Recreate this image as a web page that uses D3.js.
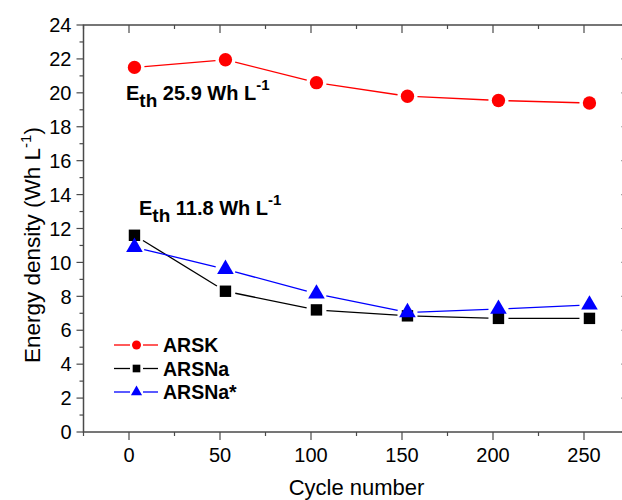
<!DOCTYPE html>
<html>
  <head>
    <meta charset="utf-8">
    <title>Energy density vs cycle number</title>
    <script src="https://d3js.org/d3.v7.min.js"></script>
    <style>
      body { margin: 0; background: #fff; overflow: hidden; }
      text { font-family: "Liberation Sans", Arial, sans-serif; }
    </style>
  </head>
  <body>
    <script>
    // data
    var cycles = [3, 53, 103, 153, 203, 253]
    var arsk = [21.5, 21.95, 20.6, 19.8, 19.55, 19.4]
    var arsna = [11.6, 8.3, 7.2, 6.85, 6.7, 6.7]
    var arsnaStar = [10.9, 9.6, 8.15, 7.05, 7.25, 7.5]
    var seriesNames = ["ARSK", "ARSNa", "ARSNa*"]
    var xTicks = [0, 50, 100, 150, 200, 250]
    var yTicks = [0, 2, 4, 6, 8, 10, 12, 14, 16, 18, 20, 22, 24]

    var width = 622,
        height = 500,
        axisColor = "#4a4a4a"

    var series = [
      {name: seriesNames[0], values: arsk, color: "#ff0000", symbol: d3.symbolCircle, size: 140},
      {name: seriesNames[1], values: arsna, color: "#000000", symbol: d3.symbolSquare, size: 130},
      {name: seriesNames[2], values: arsnaStar, color: "#0000ff", symbol: d3.symbolTriangle, size: 120}
    ]

    var x = d3.scaleLinear().domain([-25, 275]).range([83.5, 629.5])
    var y = d3.scaleLinear().domain([0, 24]).range([432, 25])

    var svg = d3.select("body").append("svg")
                .attr("width", width)
                .attr("height", height)

    // frame and ticks
    var minorX = d3.range(-25, 276, 25)
    var minorY = d3.range(0, 25, 1)

    var gBottom = svg.append("g").attr("transform", "translate(0," + y(0) + ")")
    gBottom.selectAll("line").data(minorX).enter().append("line")
      .attr("x1", d => x(d)).attr("x2", d => x(d))
      .attr("y1", 0).attr("y2", d => d % 50 === 0 ? 8 : 4)
      .attr("stroke", axisColor).attr("stroke-width", 1.2)
    gBottom.selectAll("text").data(xTicks).enter().append("text")
      .attr("x", d => x(d)).attr("y", 30)
      .attr("text-anchor", "middle")
      .attr("font-size", 20)
      .text(d => d)

    var gTop = svg.append("g").attr("transform", "translate(0," + y(24) + ")")
    gTop.selectAll("line").data(minorX).enter().append("line")
      .attr("x1", d => x(d)).attr("x2", d => x(d))
      .attr("y1", 0).attr("y2", d => d % 50 === 0 ? 8 : 4)
      .attr("stroke", axisColor).attr("stroke-width", 1.2)

    var gLeft = svg.append("g").attr("transform", "translate(" + x(-25) + ",0)")
    gLeft.selectAll("line").data(minorY).enter().append("line")
      .attr("y1", d => y(d)).attr("y2", d => y(d))
      .attr("x1", 0).attr("x2", d => d % 2 === 0 ? -7 : -4)
      .attr("stroke", axisColor).attr("stroke-width", 1.2)
    gLeft.selectAll("text").data(yTicks).enter().append("text")
      .attr("x", -12).attr("y", d => y(d))
      .attr("dy", "0.36em")
      .attr("text-anchor", "end")
      .attr("font-size", 20)
      .text(d => d)

    var gRight = svg.append("g").attr("transform", "translate(" + x(275) + ",0)")
    gRight.selectAll("line").data(minorY).enter().append("line")
      .attr("y1", d => y(d)).attr("y2", d => y(d))
      .attr("x1", 0).attr("x2", d => d % 2 === 0 ? -8 : -4)
      .attr("stroke", axisColor).attr("stroke-width", 1.2)

    svg.append("rect")
      .attr("x", x(-25)).attr("y", y(24))
      .attr("width", x(275) - x(-25)).attr("height", y(0) - y(24))
      .attr("fill", "none").attr("stroke", axisColor).attr("stroke-width", 1.5)

    // axis titles
    svg.append("text")
      .attr("x", x(125)).attr("y", 495)
      .attr("text-anchor", "middle")
      .attr("font-size", 22)
      .text("Cycle number")

    var yt = svg.append("text")
      .attr("transform", "translate(40,245) rotate(-90)")
      .attr("text-anchor", "middle")
      .attr("font-size", 22.5)
    yt.append("tspan").text("Energy density (Wh L")
    yt.append("tspan").attr("font-size", 15).attr("dy", -9).text("-1")
    yt.append("tspan").attr("dy", 9).text(")")

    // lines with a small gap around each symbol
    var gap = 10
    function cut(d, end) {
      var dx = d[1][0] - d[0][0], dy = d[1][1] - d[0][1], l = Math.hypot(dx, dy)
      return end ? [d[1][0] - dx * gap / l, d[1][1] - dy * gap / l]
                 : [d[0][0] + dx * gap / l, d[0][1] + dy * gap / l]
    }
    series.forEach(function(s) {
      var pts = cycles.map((c, i) => [x(c), y(s.values[i])])
      svg.append("g").selectAll("line").data(d3.pairs(pts)).enter().append("line")
        .attr("x1", d => cut(d, false)[0])
        .attr("y1", d => cut(d, false)[1])
        .attr("x2", d => cut(d, true)[0])
        .attr("y2", d => cut(d, true)[1])
        .attr("stroke", s.color).attr("stroke-width", 1.3)
    })
    series.forEach(function(s) {
      svg.append("g").selectAll("path").data(s.values).enter().append("path")
        .attr("transform", (d, i) => "translate(" + x(cycles[i]) + "," + y(d) + ")")
        .attr("d", d3.symbol().type(s.symbol).size(s.size))
        .attr("fill", s.color)
    })

    // annotations
    function eth(xp, yp, val) {
      var t = svg.append("text")
        .attr("x", xp).attr("y", yp)
        .attr("font-size", 20).attr("font-weight", "bold")
      t.append("tspan").text("E")
      t.append("tspan").attr("font-size", 19).attr("dy", 7).text("th")
      t.append("tspan").attr("dy", -7).text(" " + val + " Wh L")
      t.append("tspan").attr("font-size", 15).attr("dy", -10).text("-1")
    }
    eth(126, 100, "25.9")
    eth(139, 215, "11.8")

    // legend
    var legend = svg.append("g").attr("transform", "translate(114,345)")
    series.forEach(function(s, i) {
      var g = legend.append("g").attr("transform", "translate(0," + i * 23.5 + ")")
      g.append("line").attr("x1", 0).attr("x2", 16).attr("stroke", s.color).attr("stroke-width", 1.3)
      g.append("line").attr("x1", 29).attr("x2", 44).attr("stroke", s.color).attr("stroke-width", 1.3)
      g.append("path").attr("transform", "translate(22.5,0)")
        .attr("d", d3.symbol().type(s.symbol).size(s.size * 0.45))
        .attr("fill", s.color)
      g.append("text").attr("x", 49).attr("dy", "0.36em")
        .attr("font-size", 19.5).attr("font-weight", "bold")
        .text(s.name)
    })
    </script>
  </body>
</html>
